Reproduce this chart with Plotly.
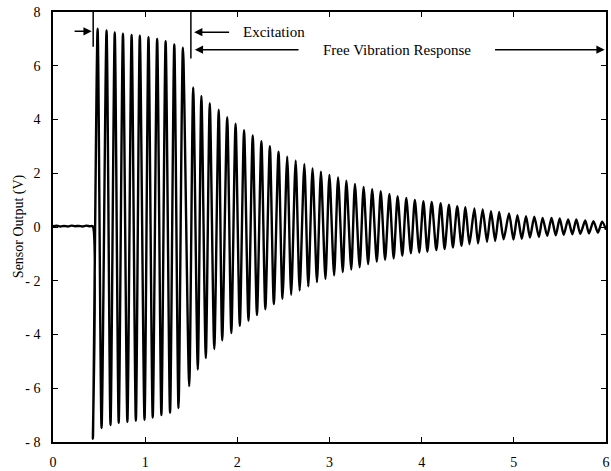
import plotly.graph_objects as go

# Sensor output record: quiet baseline, forced excitation, then free decay.
# Times in seconds, voltages in volts (peak / trough values of each cycle).

baseline_t = [0.00, 0.04, 0.08, 0.12, 0.16, 0.20, 0.24, 0.28, 0.32, 0.36, 0.40, 0.430]
baseline_v = [0.03, 0.05, 0.02, 0.04, 0.02, 0.05, 0.03, 0.04, 0.02, 0.05, 0.03, 0.03]

excite_peak_t = [0.484, 0.581, 0.670, 0.759, 0.853, 0.942, 1.036, 1.130, 1.222, 1.316, 1.410]
excite_peak_v = [7.38, 7.31, 7.24, 7.19, 7.15, 7.12, 7.06, 7.00, 6.91, 6.79, 6.67]

excite_trough_t = [0.433, 0.527, 0.624, 0.713, 0.807, 0.899, 0.993, 1.082, 1.176, 1.270, 1.362]
excite_trough_v = [-7.88, -7.48, -7.37, -7.29, -7.25, -7.21, -7.17, -7.09, -7.00, -6.91, -6.74]

free_peak_t = [1.521, 1.610, 1.701, 1.798, 1.890, 1.981, 2.073, 2.167, 2.261, 2.353,
               2.447, 2.541, 2.633, 2.727, 2.816, 2.907, 2.999, 3.093, 3.183, 3.276,
               3.370, 3.463, 3.556, 3.650, 3.739, 3.833, 3.926, 4.019, 4.109, 4.206,
               4.296, 4.386, 4.475, 4.572, 4.662, 4.752, 4.841, 4.948, 5.039, 5.132,
               5.222, 5.312, 5.409, 5.498, 5.589, 5.678, 5.775, 5.864, 5.958]
free_peak_v = [5.19, 4.88, 4.61, 4.36, 4.09, 3.84, 3.60, 3.41, 3.19, 3.01,
               2.80, 2.62, 2.47, 2.34, 2.18, 2.06, 1.94, 1.84, 1.72, 1.60,
               1.49, 1.41, 1.33, 1.23, 1.15, 1.08, 1.01, 0.96, 0.93, 0.89,
               0.83, 0.77, 0.74, 0.69, 0.65, 0.59, 0.56, 0.50, 0.44, 0.40,
               0.38, 0.34, 0.34, 0.32, 0.28, 0.28, 0.24, 0.22, 0.20]

free_trough_t = [1.478, 1.571, 1.658, 1.750, 1.836, 1.935, 2.027, 2.121, 2.213, 2.304,
                 2.396, 2.490, 2.584, 2.676, 2.770, 2.864, 2.956, 3.050, 3.144, 3.236,
                 3.327, 3.419, 3.513, 3.603, 3.696, 3.790, 3.883, 3.974, 4.062, 4.159,
                 4.249, 4.339, 4.432, 4.518, 4.612, 4.709, 4.798, 4.889, 4.996, 5.086,
                 5.175, 5.272, 5.362, 5.455, 5.541, 5.635, 5.721, 5.815, 5.912]
free_trough_v = [-5.92, -5.30, -4.88, -4.54, -4.22, -3.95, -3.68, -3.49, -3.28, -3.06,
                 -2.87, -2.67, -2.52, -2.36, -2.21, -2.05, -1.93, -1.80, -1.68, -1.58,
                 -1.50, -1.38, -1.29, -1.22, -1.17, -1.07, -0.98, -0.95, -0.92, -0.86,
                 -0.82, -0.76, -0.70, -0.64, -0.61, -0.55, -0.52, -0.46, -0.47, -0.44,
                 -0.39, -0.37, -0.33, -0.31, -0.29, -0.27, -0.25, -0.24, -0.21]

end_t = [6.0]
end_v = [-0.10]

x_ticks = [0, 1, 2, 3, 4, 5, 6]
y_ticks = [-8, -6, -4, -2, 0, 2, 4, 6, 8]
y_tick_text = ["- 8", "- 6", "- 4", "- 2", "0", "2", "4", "6", "8"]

excite_start = 0.436
excite_end = 1.496

# merge all samples in time order to form the trace
pts = list(zip(baseline_t, baseline_v))
pts += list(zip(excite_peak_t, excite_peak_v)) + list(zip(excite_trough_t, excite_trough_v))
pts += list(zip(free_peak_t, free_peak_v)) + list(zip(free_trough_t, free_trough_v))
pts += list(zip(end_t, end_v))
pts.sort(key=lambda p: p[0])
t_all = [p[0] for p in pts]
v_all = [p[1] for p in pts]

SERIF = "Liberation Serif, Times New Roman, serif"

fig = go.Figure()
fig.add_trace(go.Scatter(
    x=t_all, y=v_all, mode="lines",
    line=dict(color="black", width=2.4, shape="spline", smoothing=0.7),
    showlegend=False, hoverinfo="skip",
))

# phase markers
fig.add_shape(type="line", x0=excite_start, x1=excite_start, y0=8, y1=6.71,
              xref="x", yref="y", line=dict(color="black", width=1.5))
fig.add_shape(type="line", x0=excite_end, x1=excite_end, y0=8, y1=6.27,
              xref="x", yref="y", line=dict(color="black", width=1.5))

arrows = [
    # (head_x, head_y, tail_x, tail_y)
    (0.420, 7.28, 0.218, 7.28),
    (1.531, 7.25, 1.927, 7.25),
    (1.539, 6.60, 2.680, 6.60),
    (5.985, 6.60, 4.780, 6.60),
]
for hx, hy, tx, ty in arrows:
    fig.add_annotation(x=hx, y=hy, ax=tx, ay=ty, xref="x", yref="y",
                       axref="x", ayref="y", text="", showarrow=True,
                       arrowhead=2, arrowsize=1.1, arrowwidth=1.5,
                       arrowcolor="black")

fig.add_annotation(x=2.045, y=7.25, xref="x", yref="y", text="Excitation",
                   showarrow=False, xanchor="left", yanchor="middle",
                   font=dict(family=SERIF, size=15, color="black"))
fig.add_annotation(x=2.905, y=6.60, xref="x", yref="y", text="Free Vibration Response",
                   showarrow=False, xanchor="left", yanchor="middle",
                   font=dict(family=SERIF, size=15, color="black"))

fig.add_annotation(x=-0.0625, y=0.503, xref="paper", yref="paper",
                   text="Sensor Output (V)", textangle=-90, showarrow=False,
                   xanchor="center", yanchor="middle",
                   font=dict(family=SERIF, size=14, color="black"))

fig.update_xaxes(range=[0, 6], tickvals=x_ticks, ticktext=[str(v) for v in x_ticks],
                 ticks="inside", ticklen=5, tickwidth=1.2, tickcolor="black",
                 showline=True, linecolor="black", linewidth=1.5, mirror="ticks",
                 showgrid=False, zeroline=False, ticklabelstandoff=6,
                 ticklabeloverflow="allow",
                 tickfont=dict(family=SERIF, size=14, color="black"))
fig.update_yaxes(range=[-8, 8], tickvals=y_ticks, ticktext=y_tick_text,
                 ticks="inside", ticklen=5, tickwidth=1.2, tickcolor="black",
                 showline=True, linecolor="black", linewidth=1.5, mirror="ticks",
                 showgrid=False, zeroline=False, ticklabelstandoff=8,
                 tickfont=dict(family=SERIF, size=14, color="black"))

fig.update_layout(
    width=611, height=471,
    margin=dict(l=53, r=1, t=12, b=24),
    paper_bgcolor="white", plot_bgcolor="white",
)

fig.write_html("out.html")
